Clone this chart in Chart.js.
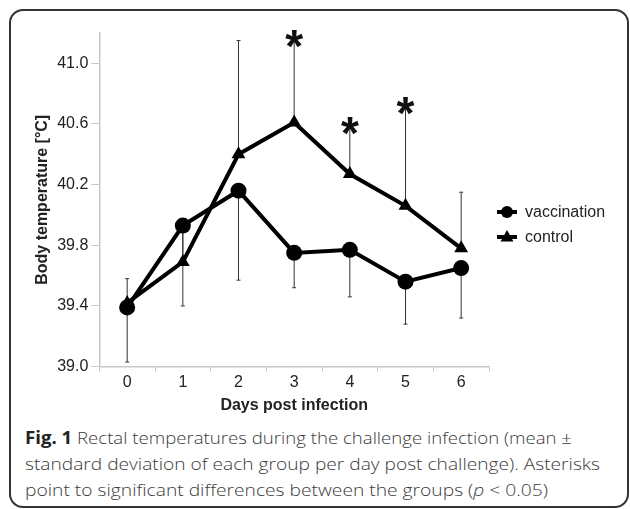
<!DOCTYPE html>
<html>
<head>
<meta charset="utf-8">
<script src="https://cdn.jsdelivr.net/npm/chart.js"></script>
<style>
    html, body { margin: 0; padding: 0; background: #fff; }
    body { width: 630px; height: 509px; position: relative; overflow: hidden; }
    .frame {
        position: absolute; left: 9px; top: 9px; width: 616px; height: 495px;
        border: 2px solid #333; border-radius: 14px;
    }
    #chart { position: absolute; left: 0; top: 0; }
    .caption {
        position: absolute; left: 25px; top: 425px;
        font-family: 'Open Sans', 'Noto Sans', sans-serif; font-size: 17px; font-weight: 300;
        line-height: 26px; color: #3a3a3a;
    }
    .caption div { white-space: nowrap; }
    .caption span { display: inline-block; transform-origin: left center; }
    .caption b { font-weight: 700; color: #222; }
</style>
</head>
<body>
<div class="frame"></div>
<canvas id="chart" width="630" height="420"></canvas>
<div class="caption">
    <div><span data-w="547"><b>Fig. 1</b> Rectal temperatures during the challenge infection (mean ±</span></div>
    <div><span data-w="575">standard deviation of each group per day post challenge). Asterisks</span></div>
    <div><span data-w="523">point to significant differences between the groups (<i>p</i> &lt; 0.05)</span></div>
</div>
<script>
// Data
const days = ['0', '1', '2', '3', '4', '5', '6'];
const vaccination = [39.39, 39.93, 40.16, 39.75, 39.77, 39.56, 39.65];
const vaccinationSD = [0.36, 0.53, 0.59, 0.23, 0.31, 0.28, 0.33];
const control = [39.42, 39.69, 40.40, 40.61, 40.27, 40.06, 39.78];
const controlSD = [0.16, 0.20, 0.75, 0.53, 0.30, 0.64, 0.37];
const significant = [false, false, false, true, true, true, false];
const seriesNames = ['vaccination', 'control'];
const yTicks = [39.0, 39.4, 39.8, 40.2, 40.6, 41.0];

Chart.defaults.font.family = '"Liberation Sans", Arial, sans-serif';
Chart.defaults.font.size = 16;
Chart.defaults.color = '#222';

// error bars: vaccination downwards, control upwards
const errorBars = {
    id: 'errorBars',
    beforeDatasetsDraw(chart) {
        const ctx = chart.ctx;
        const x = chart.scales.x, y = chart.scales.y;
        ctx.save();
        ctx.strokeStyle = '#333';
        ctx.lineWidth = 1;
        days.forEach(function(d, i) {
            const px = x.getPixelForValue(i);
            const pairs = [
                [vaccination[i], vaccination[i] - vaccinationSD[i]],
                [control[i], control[i] + controlSD[i]]
            ];
            pairs.forEach(function(p) {
                const y0 = y.getPixelForValue(p[0]);
                const y1 = y.getPixelForValue(p[1]);
                ctx.beginPath();
                ctx.moveTo(px, y0);
                ctx.lineTo(px, y1);
                ctx.moveTo(px - 2, y1);
                ctx.lineTo(px + 2, y1);
                ctx.stroke();
            });
        });
        ctx.restore();
    }
};

// asterisks + legend
const annotations = {
    id: 'annotations',
    afterDraw(chart) {
        const ctx = chart.ctx;
        const x = chart.scales.x, y = chart.scales.y;
        ctx.save();
        ctx.fillStyle = '#111';
        ctx.font = 'bold 46px "Liberation Sans", Arial, sans-serif';
        ctx.textAlign = 'center';
        ctx.textBaseline = 'alphabetic';
        days.forEach(function(d, i) {
            if (!significant[i]) return;
            const top = y.getPixelForValue(control[i] + controlSD[i]);
            ctx.fillText('*', x.getPixelForValue(i), top + 20);
        });

        // legend
        const lx = 507;
        const rows = [212, 237];
        ctx.font = '16px "Liberation Sans", Arial, sans-serif';
        ctx.textAlign = 'left';
        ctx.textBaseline = 'middle';
        rows.forEach(function(ly, k) {
            ctx.strokeStyle = '#000';
            ctx.fillStyle = '#000';
            ctx.lineWidth = 4;
            ctx.beginPath();
            ctx.moveTo(lx - 10, ly);
            ctx.lineTo(lx + 10, ly);
            ctx.stroke();
            ctx.beginPath();
            if (k === 0) {
                ctx.arc(lx, ly, 6, 0, Math.PI * 2);
            } else {
                ctx.moveTo(lx, ly - 7);
                ctx.lineTo(lx + 6.5, ly + 4.5);
                ctx.lineTo(lx - 6.5, ly + 4.5);
                ctx.closePath();
            }
            ctx.fill();
            ctx.fillStyle = '#222';
            ctx.fillText(seriesNames[k], lx + 18, ly + 1);
        });
        ctx.restore();
    }
};

new Chart(document.getElementById('chart').getContext('2d'), {
    type: 'line',
    data: {
        labels: days,
        datasets: [
            {
                label: seriesNames[0],
                data: vaccination,
                borderColor: '#000',
                backgroundColor: '#000',
                borderWidth: 4,
                tension: 0,
                pointStyle: 'circle',
                pointRadius: 8,
                pointBorderWidth: 0
            },
            {
                label: seriesNames[1],
                data: control,
                borderColor: '#000',
                backgroundColor: '#000',
                borderWidth: 4,
                tension: 0,
                pointStyle: 'triangle',
                pointRadius: 8,
                pointBorderWidth: 0
            }
        ]
    },
    options: {
        responsive: false,
        animation: false,
        layout: { padding: { left: 31, right: 141, top: 33, bottom: 5 } },
        plugins: {
            legend: { display: false },
            tooltip: { enabled: false }
        },
        scales: {
            x: {
                offset: true,
                grid: { offset: true, drawOnChartArea: false, tickLength: 5, color: '#c8c8c8' },
                border: { color: '#c8c8c8', width: 1.5 },
                ticks: { padding: 1 },
                title: {
                    display: true, text: 'Days post infection',
                    padding: { top: 3, bottom: 0 },
                    font: { weight: 'bold', size: 16 }
                }
            },
            y: {
                min: 39.0,
                max: 41.2,
                afterBuildTicks: function(axis) {
                    axis.ticks = yTicks.map(function(v) { return { value: v }; });
                },
                grid: { drawOnChartArea: false, tickLength: 8, color: '#c8c8c8' },
                border: { color: '#c8c8c8', width: 1.5 },
                ticks: {
                    padding: 3,
                    callback: function(value) { return value.toFixed(1); }
                },
                title: {
                    display: true, text: 'Body temperature [°C]',
                    padding: 2,
                    font: { weight: 'bold', size: 16 }
                }
            }
        }
    },
    plugins: [errorBars, annotations]
});

// fit caption lines to the widths in the figure
document.querySelectorAll('.caption span').forEach(function(el) {
    const target = parseFloat(el.dataset.w);
    const w = el.getBoundingClientRect().width;
    el.style.transform = 'scaleX(' + (target / w) + ')';
});
</script>
</body>
</html>
